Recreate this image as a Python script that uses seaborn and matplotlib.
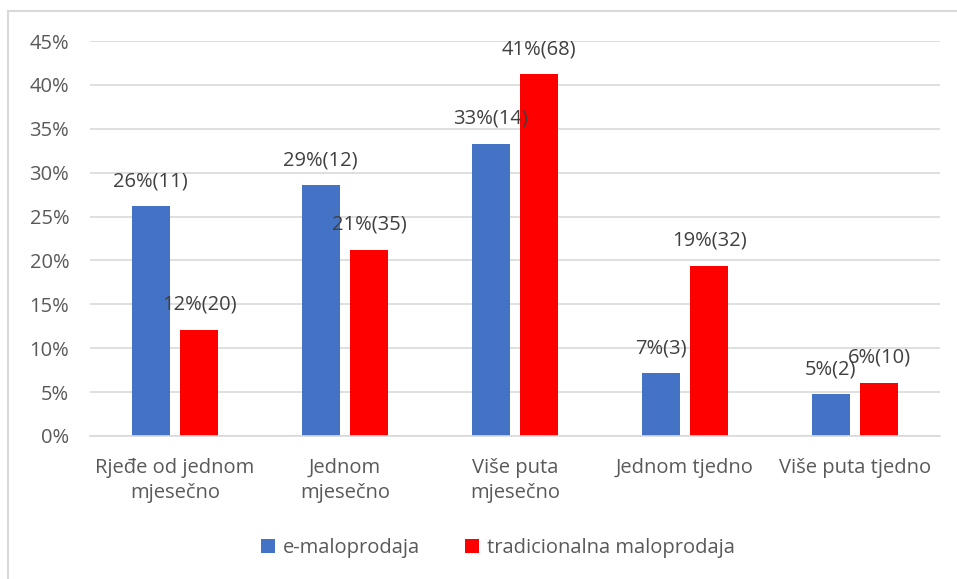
import pandas as pd
import numpy as np
import matplotlib.pyplot as plt
import seaborn as sns
from matplotlib.lines import Line2D

kategorije = ["Rjeđe od jednom\nmjesečno", "Jednom\nmjesečno", "Više puta\nmjesečno",
              "Jednom tjedno", "Više puta tjedno"]
serije = ["e-maloprodaja", "tradicionalna maloprodaja"]
e_postotak = [26.19, 28.57, 33.33, 7.14, 4.76]
e_broj = [11, 12, 14, 3, 2]
t_postotak = [12.12, 21.21, 41.21, 19.39, 6.06]
t_broj = [20, 35, 68, 32, 10]
boje = ["#4472C4", "#FF0000"]

df = pd.DataFrame({
    "kategorija": kategorije * 2,
    "serija": [serije[0]] * 5 + [serije[1]] * 5,
    "udio": [v / 100 for v in e_postotak + t_postotak],
    "broj": e_broj + t_broj,
})

sns.set_style("white")
plt.rcParams["font.family"] = ["Open Sans", "DejaVu Sans"]

fig = plt.figure(figsize=(9.57, 5.79), dpi=100)
ax = fig.add_axes([90 / 957, 0.247, 850 / 957, 0.682])

sns.barplot(data=df, x="kategorija", y="udio", hue="serija", hue_order=serije,
            palette=boje, width=0.575, gap=0.225, saturation=1, linewidth=0, ax=ax)

# oznake iznad stupaca
for cont, serija in zip(ax.containers, serije):
    sub = df[df["serija"] == serija]
    for bar, u, b in zip(cont, sub["udio"], sub["broj"]):
        ax.annotate(f"{u * 100:.0f}%({b})",
                    (bar.get_x() + bar.get_width() / 2, bar.get_height()),
                    xytext=(0, 18), textcoords="offset points",
                    ha="center", va="center", fontsize=14.5, color="#404040")

ax.set_ylim(0, 0.45)
ax.set_yticks(np.arange(0, 0.46, 0.05))
ax.set_yticklabels([f"{int(round(t * 100))}%" for t in np.arange(0, 0.46, 0.05)])
ax.set_xlim(-0.5, 4.5)
ax.yaxis.grid(True, color="#D9D9D9", linewidth=1.2)
ax.set_axisbelow(True)
for s in ["top", "right", "left"]:
    ax.spines[s].set_visible(False)
ax.spines["bottom"].set_color("#D9D9D9")
ax.spines["bottom"].set_linewidth(1.2)
ax.tick_params(axis="both", length=0, labelsize=14.5, labelcolor="#595959")
ax.tick_params(axis="y", pad=15)
ax.tick_params(axis="x", pad=16)
for t in ax.get_xticklabels():
    t.set_linespacing(1.35)
ax.set_xlabel("")
ax.set_ylabel("")

sns.move_legend(ax, "center", bbox_to_anchor=(0.48, -0.284), ncol=2,
                frameon=False, title=None, fontsize=14.5, handlelength=0.7,
                handleheight=0.7, handletextpad=0.4, columnspacing=2.2)
for t in ax.get_legend().get_texts():
    t.set_color("#595959")

# okvir grafikona
fig.add_artist(Line2D([8 / 957, 1], [1 - 11 / 579, 1 - 11 / 579], color="#D9D9D9", lw=1.5))
fig.add_artist(Line2D([8 / 957, 8 / 957], [0, 1 - 11 / 579], color="#D9D9D9", lw=1.5))

fig.savefig("out.png", dpi=100)
